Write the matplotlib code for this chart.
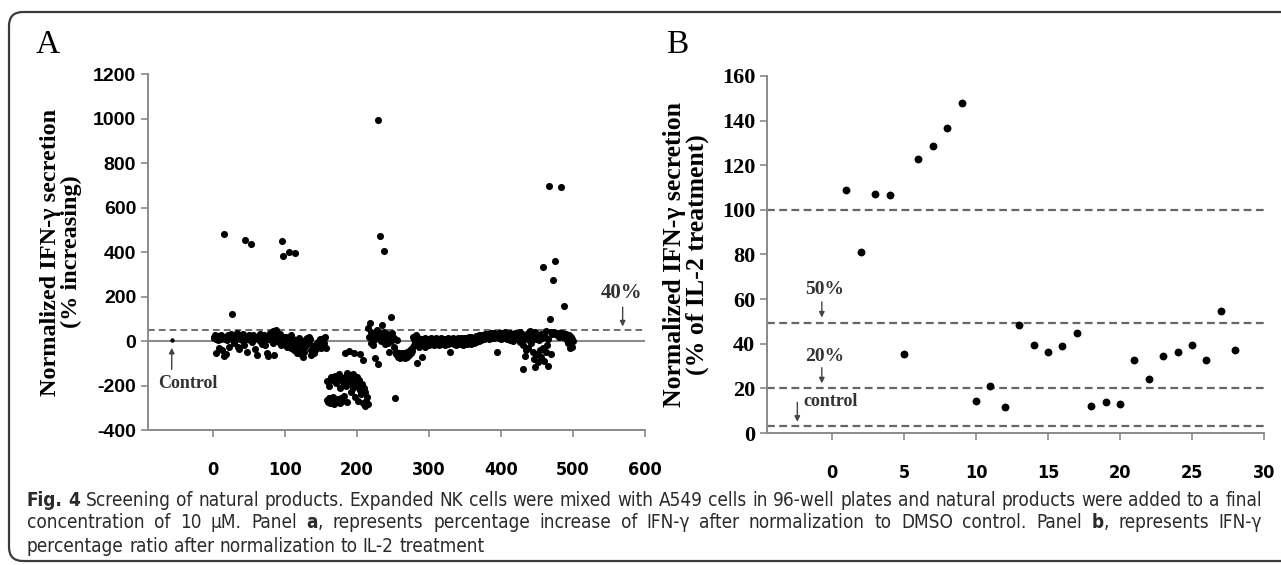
import re
import numpy as np
import matplotlib
matplotlib.use('Agg')
import matplotlib.pyplot as plt
from matplotlib.patches import FancyBboxPatch
from matplotlib.transforms import IdentityTransform

plt.rcParams['axes.unicode_minus'] = False

# ---- panel A : screening of ~500 natural products ----
a_y = [20, 15, 25, 10, -55, 18, 5, -30, 22, 12,
       8, 25, -40, 15, -66, 480, 10, -58, 20, 5,
       28, 18, -25, 12, 30, 10, 123, 15, 22, -10,
       20, 8, 35, 14, -28, 18, -35, 10, 25, 5,
       12, 30, 15, -20, 455, 8, -48, 20, 10, 25,
       15, 5, 437, 18, -5, 28, 10, -35, 12, 20,
       -63, 15, 8, 22, 0, 30, 12, -15, 18, 5,
       25, 10, -20, 15, -54, 8, -67, 20, 12, 35,
       5, 18, -10, 45, -61, 22, 10, 50, 15, 0,
       25, -5, 12, 30, -20, 449, 8, 383, 18, -10,
       20, 5, -25, 15, -8, 399, 10, -30, 25, 0,
       -15, 8, -40, 397, -20, 5, -55, -10, -35, 12,
       -45, -25, -60, -5, -70, -30, -50, 0, -20, 10,
       15, 5, 20, -10, 8, -62, -40, -50, -30, -55,
       -45, -20, -35, -10, -25, -5, 0, -15, 10, -30,
       10, 5, -4, 15, -8, 20, -30, -265, -180, -275,
       -255, -200, -280, -160, -270, -175, -250, -285, -155, -265,
       -190, -275, -170, -260, -150, -280, -210, -255, -165, -270,
       -185, -245, -160, -56, -200, -145, -275, -175, -47, -190,
       -155, -230, -180, -150, -210, -55, -165, -250, -185, -160,
       -200, -270, -175, -220, -60, -240, -195, -85, -280, -210,
       -290, -230, -270, -250, -285, 60, 20, 80, -10, 40,
       10, 30, -20, 5, -77, 25, 15, 50, 992, -104,
       35, 472, 0, 20, 73, 10, 404, 40, -15, 25,
       5, 30, -8, 15, -48, 20, 109, 0, 35, 10,
       -25, 15, -255, -50, -60, 5, -70, -55, -65, -75,
       -58, -68, -52, -72, -60, -55, -75, -62, -50, -70,
       -58, -48, -65, -40, -55, -30, -45, 20, -20, 10,
       -10, 25, -100, -5, 15, -25, 0, -15, 10, -73,
       -20, 5, -10, 15, -25, 0, -15, 10, -5, -20,
       5, -10, 15, -15, 0, 10, -20, 5, -5, 12,
       -12, 0, 8, -18, 5, -8, 15, -15, 0, 10,
       -10, 5, -20, 8, -5, 12, -15, 0, -48, 5,
       -10, 10, -5, 15, -12, 2, -20, 8, -8, 12,
       0, -15, 10, -5, 15, -10, 5, -18, 12, 0,
       -8, 15, -12, 5, 18, -5, 10, -15, 20, 0,
       8, -10, 15, 2, 22, -5, 12, 18, 0, 25,
       10, 20, 5, 28, 12, 22, 8, 30, 15, 25,
       18, 32, 10, 28, 20, 35, 15, 30, 22, 12,
       35, 25, 18, -48, 30, 20, 38, 15, 28, 10,
       25, 35, 18, 30, 12, 40, 22, 8, 32, 15,
       28, 5, 35, 20, 10, 30, 2, 25, 15, 38,
       20, 8, 30, 12, 25, 40, -5, 18, 30, -20,
       -126, 10, -67, 25, -40, 15, 35, -30, 5, 45,
       20, -10, 30, -50, 15, -80, 40, -117, 10, -60,
       25, -95, 5, -40, 30, -70, 15, -30, 333, -90,
       20, -50, 45, -20, -110, 10, 697, 100, -60, 40,
       30, 276, 35, 40, 358, 30, 35, 25, 28, 20,
       38, 30, 692, 22, 35, 18, 159, 28, 15, 30,
       20, 5, -10, 25, 12, -30, 18, -25, 8, 0]
a_x = np.arange(1, len(a_y) + 1)
a_control = (-57, 3)
a_cutoff = 50  # dashed "40%" line

# ---- panel B : 28 selected products ----
b_x = np.arange(1, 29)
b_y = [109, 81, 107, 106.5, 35.5, 123, 128.5, 136.5, 148, 14.5,
       21, 11.5, 48.5, 39.5, 36.5, 39, 45, 12, 14, 13,
       32.5, 24, 34.5, 36.5, 39.5, 32.5, 54.5, 37]
b_lines = [100, 49.5, 20, 3.3]

serif = 'Liberation Serif'
narrow = dict(fontfamily='DejaVu Sans', fontstretch='condensed')
axis_grey = '#8a8a8a'

fig = plt.figure(figsize=(12.81, 5.65), dpi=100)

# rounded frame
frame = FancyBboxPatch((9, 4), 1300, 549, boxstyle='round,pad=0,rounding_size=14',
                       transform=IdentityTransform(), fill=False,
                       edgecolor='#3a3a3a', linewidth=1.6)
fig.patches.append(frame)


def style_axes(ax):
    for s in ['top', 'right']:
        ax.spines[s].set_visible(False)
    for s in ['left', 'bottom']:
        ax.spines[s].set_color(axis_grey)
        ax.spines[s].set_linewidth(1.4)
    ax.tick_params(axis='both', direction='out', length=5, width=1.2, color=axis_grey)
    ax.tick_params(axis='x', pad=17)


# ---------------- panel A ----------------
axA = fig.add_axes([0.1155, 0.2389, 0.388, 0.630])
style_axes(axA)
axA.axhline(0, color='#8a8a8a', lw=1.5, zorder=1)
axA.axhline(a_cutoff, color='#555555', lw=1.2, ls=(0, (4, 2.5)), zorder=1)
axA.scatter(a_x, a_y, s=26, color='black', zorder=3, linewidths=0)
axA.scatter([a_control[0]], [a_control[1]], s=10, color='black', zorder=3, linewidths=0)
axA.set_xlim(-90, 600)
axA.set_ylim(-400, 1200)
axA.set_yticks(np.arange(-400, 1201, 200))
axA.set_xticks(np.arange(0, 601, 100))
for lab in axA.get_yticklabels():
    lab.set_fontfamily('Liberation Sans')
    lab.set_fontweight('bold')
    lab.set_fontsize(14)
for lab in axA.get_xticklabels():
    lab.set_fontfamily(narrow['fontfamily'])
    lab.set_fontstretch(narrow['fontstretch'])
    lab.set_fontweight('bold')
    lab.set_fontsize(13)
axA.set_ylabel('Normalized IFN-\u03b3 secretion\n(% increasing)', fontfamily=serif,
               fontweight='bold', fontsize=17.5, labelpad=8, linespacing=1.0)
axA.annotate('', xy=(-57, -18), xytext=(-57, -140),
             arrowprops=dict(arrowstyle='-|>', color='#444444', lw=1, mutation_scale=8))
axA.text(-35, -190, 'Control', fontfamily=serif, fontweight='bold', fontsize=13,
         ha='center', va='center', color='#333333')
axA.annotate('', xy=(569, a_cutoff + 3), xytext=(569, 165),
             arrowprops=dict(arrowstyle='-|>', color='#444444', lw=1, mutation_scale=8))
axA.text(568, 215, '40%', fontfamily=serif, fontweight='bold', fontsize=15,
         ha='center', va='center', color='#333333')

# ---------------- panel B ----------------
axB = fig.add_axes([0.5988, 0.2336, 0.388, 0.632])
style_axes(axB)
for v in b_lines:
    axB.axhline(v, color='#666666', lw=1.6, ls=(0, (3.5, 2)), zorder=1)
axB.scatter(b_x, b_y, s=32, color='black', zorder=3, linewidths=0)
axB.set_xlim(-4.5, 30)
axB.set_ylim(0, 160)
axB.set_yticks(np.arange(0, 161, 20))
axB.set_xticks(np.arange(0, 31, 5))
for lab in axB.get_yticklabels():
    lab.set_fontfamily(serif)
    lab.set_fontweight('bold')
    lab.set_fontsize(16)
for lab in axB.get_xticklabels():
    lab.set_fontfamily(narrow['fontfamily'])
    lab.set_fontstretch(narrow['fontstretch'])
    lab.set_fontweight('bold')
    lab.set_fontsize(13)
axB.set_ylabel('Normalized IFN-\u03b3 secretion\n(% of IL-2 treatment)', fontfamily=serif,
               fontweight='bold', fontsize=18.5, labelpad=9, linespacing=1.0)
arrow_kw = dict(arrowstyle='-|>', color='#444444', lw=1, mutation_scale=8)
axB.annotate('', xy=(-0.7, 50.5), xytext=(-0.7, 60), arrowprops=arrow_kw)
axB.text(-0.5, 64.5, '50%', fontfamily=serif, fontweight='bold', fontsize=14,
         ha='center', va='center', color='#333333')
axB.annotate('', xy=(-0.7, 21), xytext=(-0.7, 30.5), arrowprops=arrow_kw)
axB.text(-0.5, 34.5, '20%', fontfamily=serif, fontweight='bold', fontsize=14,
         ha='center', va='center', color='#333333')
axB.annotate('', xy=(-2.4, 3.8), xytext=(-2.4, 15), arrowprops=arrow_kw)
axB.text(-0.1, 14, 'control', fontfamily=serif, fontweight='bold', fontsize=13,
         ha='center', va='center', color='#333333')

# panel letters
fig.text(48 / 1281, 1 - 45 / 565, 'A', fontfamily=serif, fontsize=24, ha='center', va='center')
fig.text(677 / 1281, 1 - 45 / 565, 'B', fontfamily=serif, fontsize=24, ha='center', va='center')

# ---------------- caption ----------------
cap_lines = [
    ("**Fig.** **4** Screening of natural products. Expanded NK cells were mixed with A549 cells "
     "in 96-well plates and natural products were added to a final", True),
    ("concentration of 10 \u03bcM. Panel **a**, represents percentage increase of IFN-\u03b3 after "
     "normalization to DMSO control. Panel **b**, represents IFN-\u03b3", True),
    ("percentage ratio after normalization to IL-2 treatment", False),
]
cap_y = [500, 523, 546]
cap_x0, cap_x1 = 27, 1262
cap_font = dict(fontfamily='DejaVu Sans', fontstretch='condensed', color='#2a2a2a')

renderer = fig.canvas.get_renderer()


def width_of(t):
    t.draw(renderer)
    return t.get_window_extent(renderer).width


def build_words(line, size):
    out = []
    for w in line.split(' '):
        parts = [p for p in re.split(r'(\*\*.*?\*\*)', w) if p]
        texts = []
        for p in parts:
            bold = p.startswith('**')
            s = p.strip('*') if bold else p
            t = fig.text(0, 0, s, transform=IdentityTransform(), va='center', fontsize=size,
                         fontweight='bold' if bold else 'normal', **cap_font)
            texts.append((t, width_of(t)))
        out.append(texts)
    return out


def space_width(size):
    a = fig.text(0, 0, 'a a', transform=IdentityTransform(), fontsize=size, **cap_font)
    b = fig.text(0, 0, 'a', transform=IdentityTransform(), fontsize=size, **cap_font)
    w = width_of(a) - 2 * width_of(b)
    a.remove()
    b.remove()
    return w


# pick caption size so that the first line fits the box with normal spacing
probe = build_words(cap_lines[0][0], 10)
probe_w = sum(pw for ws in probe for _, pw in ws) + space_width(10) * (len(probe) - 1)
for ws in probe:
    for t, _ in ws:
        t.remove()
cap_size = 10 * (cap_x1 - cap_x0) / probe_w


def draw_line(line, ypix, justify):
    words = build_words(line, cap_size)
    widths = [sum(pw for _, pw in ws) for ws in words]
    gap = space_width(cap_size)
    if justify:
        gap = (cap_x1 - cap_x0 - sum(widths)) / (len(words) - 1)
    x = cap_x0
    y = 565 - ypix
    for ws, w in zip(words, widths):
        xx = x
        for t, pw in ws:
            t.set_position((xx, y))
            xx += pw
        x += w + gap


for (line, just), yp in zip(cap_lines, cap_y):
    draw_line(line, yp, just)

fig.savefig('out.png', dpi=100)
